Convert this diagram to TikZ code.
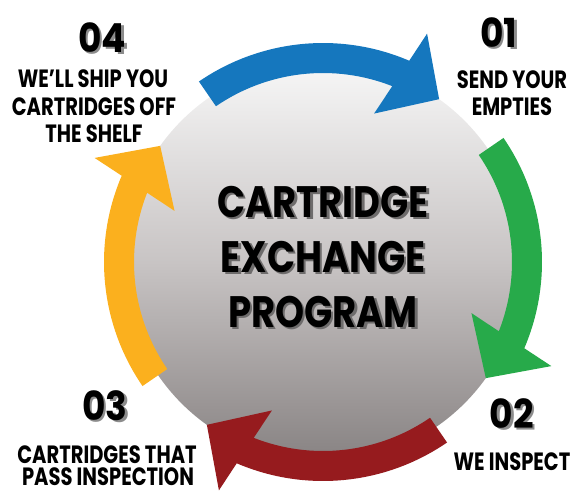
\documentclass[tikz,border=0pt]{standalone}
\usepackage{fontspec}
\newfontfamily\popb{Poppins}
\definecolor{ablue}{RGB}{21,119,190}
\definecolor{agreen}{RGB}{39,170,74}
\definecolor{ared}{RGB}{150,27,30}
\definecolor{ayellow}{RGB}{251,176,30}
\definecolor{gtop}{RGB}{247,247,247}
\definecolor{gmid}{RGB}{200,196,196}
\definecolor{gbot}{RGB}{135,130,130}
\definecolor{shdig}{RGB}{140,140,140}
\definecolor{shcen}{RGB}{110,108,108}
\newcommand\cnd[2]{\scalebox{#1}[1]{#2}}
% text with a drop shadow: #1 shadow colour, #2 scale, #3 text
\newcommand\shtxt[3]{\makebox[0pt][l]{\hspace{2.5pt}\raisebox{-2.5pt}{\color{#1}\cnd{#2}{#3}}}\cnd{#2}{#3}}
\tikzset{
  bigtxt/.style={font=\popb\bfseries\fontsize{44}{44}\selectfont, anchor=base, inner sep=0pt},
  labtxt/.style={font=\popb\bfseries\fontsize{25}{25}\selectfont, anchor=base, inner sep=0pt},
  digtxt/.style={font=\popb\bfseries\fontsize{40}{40}\selectfont, anchor=base, inner sep=0pt},
}
\begin{document}
\begin{tikzpicture}[x=1pt,y=1pt]
\useasboundingbox (-323,-229) rectangle (263,262);
% disc
\shade[top color=gtop, bottom color=gbot, middle color=gmid] (0,0) circle[radius=200pt];
% arrows
\foreach \k/\c in {0/ablue,1/agreen,2/ared,3/ayellow}{
  \fill[\c, rotate=-90*\k] (124.5:219pt) arc[start angle=124.5, end angle=66.8, radius=219pt]
    -- (65.5:251pt) -- (54.5:200pt) -- (71:157pt) -- (68.5:189pt)
    arc[start angle=68.5, end angle=124.5, radius=189pt] -- cycle;
}
% centre title
\node[bigtxt] (t1) at (0,45)  {\shtxt{shcen}{0.84}{CARTRIDGE}};
\node[bigtxt] (t2) at (0,-10) {\shtxt{shcen}{0.84}{EXCHANGE}};
\node[bigtxt] (t3) at (0,-65) {\shtxt{shcen}{0.84}{PROGRAM}};
% step numbers
\node[digtxt] (d4) at (-221,210)  {\shtxt{shdig}{0.9}{04}};
\node[digtxt] (d1) at (176,215)   {\shtxt{shdig}{0.9}{01}};
\node[digtxt] (d2) at (189,-166)  {\shtxt{shdig}{0.9}{02}};
\node[digtxt] (d3) at (-218,-158) {\shtxt{shdig}{0.9}{03}};
% labels
\node[labtxt] (l4a) at (-230,175) {\cnd{0.78}{WE’LL SHIP YOU}};
\node[labtxt] (l4b) at (-229,147) {\cnd{0.78}{CARTRIDGES OFF}};
\node[labtxt] (l4c) at (-229,120) {\cnd{0.78}{THE SHELF}};
\node[labtxt] (l1a) at (189,174) {\cnd{0.78}{SEND YOUR}};
\node[labtxt] (l1b) at (189,147) {\cnd{0.78}{EMPTIES}};
\node[labtxt] (l2a) at (189,-208) {\cnd{0.78}{WE INSPECT}};
\node[labtxt] (l3a) at (-216,-201) {\cnd{0.78}{CARTRIDGES THAT}};
\node[labtxt] (l3b) at (-215,-223) {\cnd{0.78}{PASS INSPECTION}};
\end{tikzpicture}
\end{document}
